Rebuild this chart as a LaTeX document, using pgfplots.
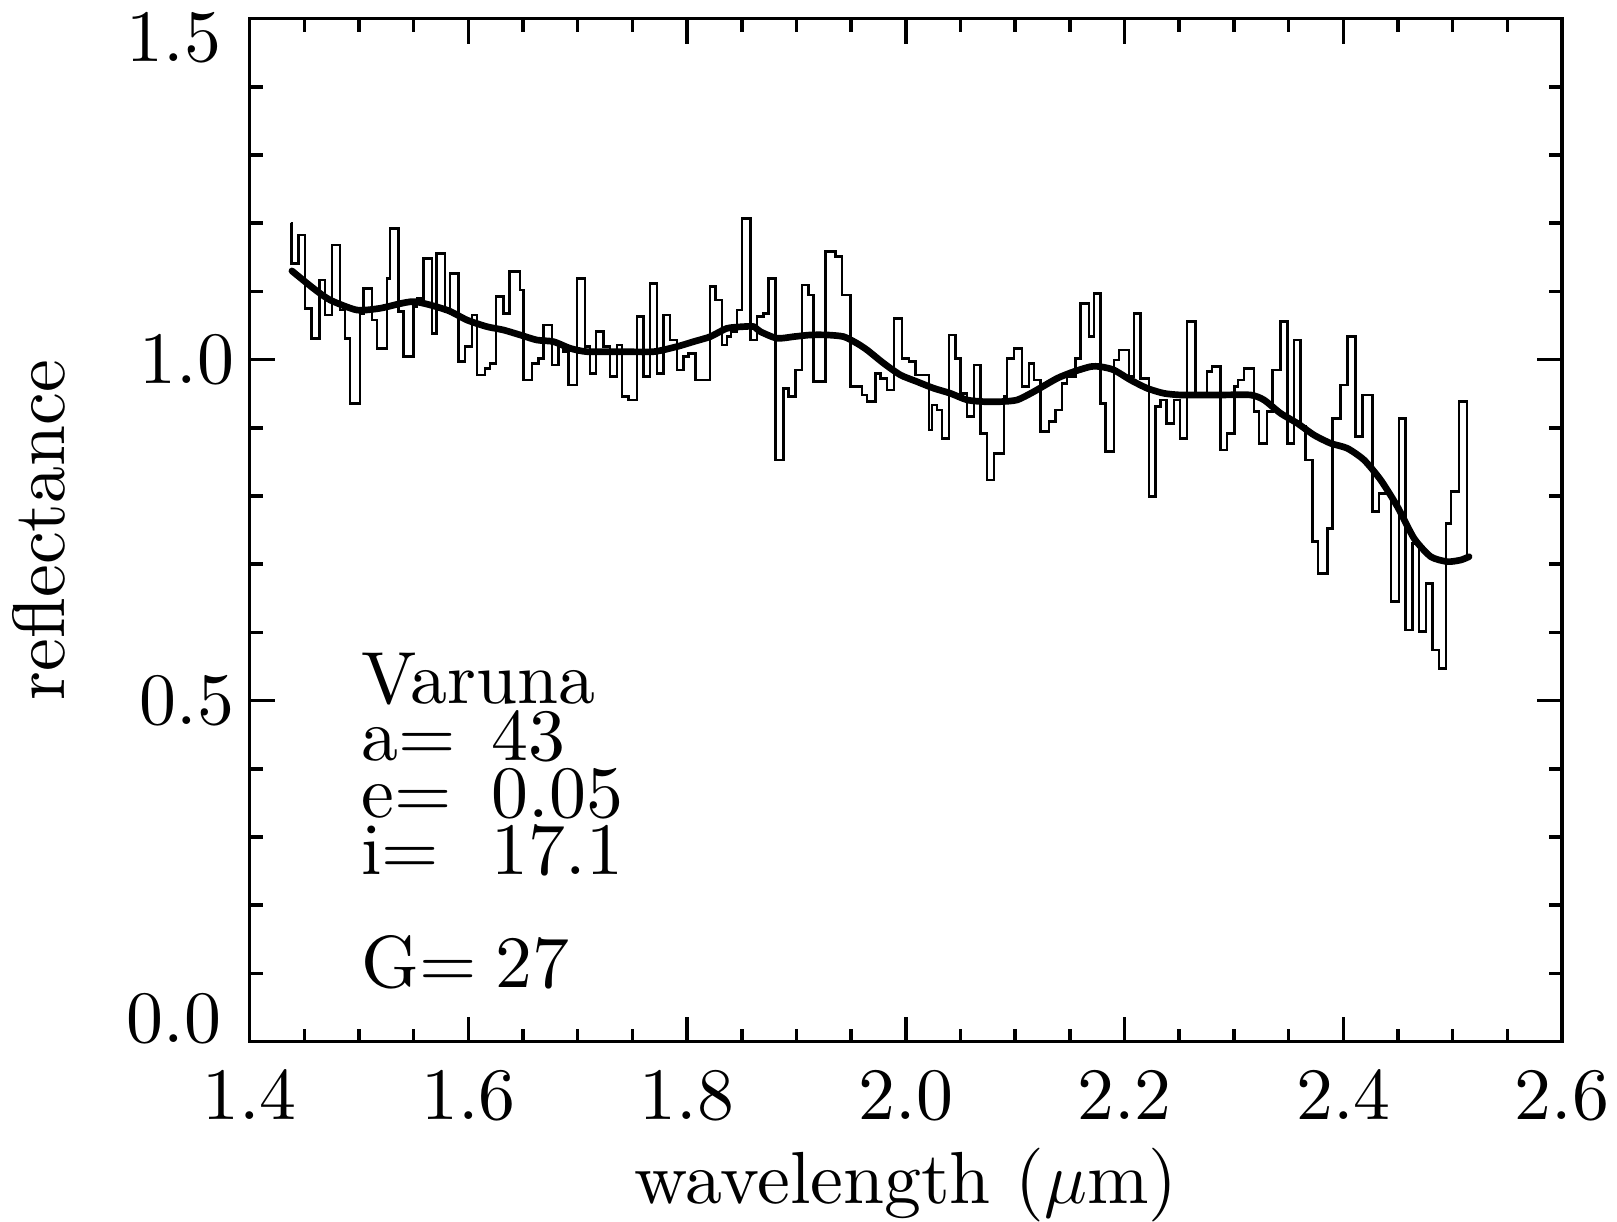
\documentclass[border=0pt]{standalone}
\usepackage{fontspec}
\setmainfont{lmroman10-regular.otf}
\usepackage{pgfplots}
\pgfplotsset{compat=1.18}
\begin{document}
\begin{tikzpicture}
\useasboundingbox (-2.496,-1.804) rectangle (13.674,10.416);
\begin{axis}[
  scale only axis, width=13.124cm, height=10.23cm,
  xmin=1.4, xmax=2.6, ymin=0, ymax=1.5,
  clip=false,
  xtick={1.4,1.6,1.8,2.0,2.2,2.4,2.6},
  ytick={0,0.5,1.0,1.5},
  yticklabels={,0.5,1.0,},
  minor x tick num=3, minor y tick num=4,
  tick align=inside, xtick pos=both, ytick pos=both,
  major tick length=0.25cm, minor tick length=0.13cm,
  axis line style={line width=1pt},
  tick style={black, line width=1pt},
  /pgf/number format/.cd, fixed, fixed zerofill, precision=1, assume math mode=true, /pgfplots/.cd,
  tick label style={font=\fontsize{21}{25}\selectfont},
  label style={font=\fontsize{21}{25}\selectfont},
  xticklabel style={yshift=-0.16cm},
  yticklabel style={xshift=-0.03cm},
  xlabel={wavelength ($\mu$m)},
  ylabel={reflectance},
  xlabel style={at={(axis description cs:0.5,-0.15875)}, anchor=base},
  ylabel style={at={(axis description cs:-0.1407,0.5)}, anchor=base},
]
\addplot[const plot mark left, black, line width=0.7pt, mark=none] coordinates {
(1.4380,1.2000) (1.4385,1.1412) (1.4446,1.1827) (1.4507,1.0752) (1.4568,1.0312)
(1.4638,1.1167) (1.4690,1.0654) (1.4751,1.1680) (1.4827,1.0727) (1.4873,1.0312)
(1.4919,0.9359) (1.5010,1.0678) (1.5041,1.1045) (1.5117,1.0581) (1.5163,1.0165)
(1.5254,1.1192) (1.5285,1.1925) (1.5361,1.0703) (1.5407,1.0043) (1.5498,1.0776)
(1.5529,1.0898) (1.5589,1.1485) (1.5666,1.0385) (1.5711,1.1558) (1.5788,1.0703)
(1.5833,1.1265) (1.5910,0.9970) (1.5971,1.0190) (1.6032,1.0654) (1.6077,0.9774)
(1.6154,0.9872) (1.6199,0.9945) (1.6254,1.0923) (1.6321,1.0678) (1.6376,1.1289)
(1.6474,1.1021) (1.6504,0.9701) (1.6581,0.9945) (1.6642,1.0019) (1.6687,1.0507)
(1.6764,0.9921) (1.6825,1.0190) (1.6870,1.0116) (1.6916,0.9628) (1.6992,1.1192)
(1.7069,1.0190) (1.7114,0.9799) (1.7169,1.0410) (1.7236,1.0190) (1.7297,0.9750)
(1.7358,1.0214) (1.7404,0.9456) (1.7465,0.9408) (1.7541,1.0630) (1.7602,0.9750)
(1.7663,1.1118) (1.7724,0.9799) (1.7785,1.0654) (1.7846,1.0287) (1.7907,0.9848)
(1.7968,1.0043) (1.8014,1.0092) (1.8075,0.9701) (1.8212,1.1069) (1.8258,1.0874)
(1.8319,1.0214) (1.8365,1.0336) (1.8401,1.0410) (1.8456,1.0727) (1.8502,1.2071)
(1.8578,1.0287) (1.8639,1.0630) (1.8700,1.0678) (1.8746,1.1192) (1.8807,0.8528)
(1.8883,0.9579) (1.8929,0.9456) (1.8990,0.9848) (1.9051,1.1094) (1.9112,1.0947)
(1.9158,0.9676) (1.9264,1.1583) (1.9356,1.1509) (1.9417,1.0947) (1.9493,0.9603)
(1.9600,0.9481) (1.9646,0.9383) (1.9722,0.9799) (1.9768,0.9725) (1.9829,0.9554)
(1.9890,1.0605) (1.9966,1.0019) (2.0027,0.9970) (2.0088,0.9774) (2.0210,0.8968)
(2.0240,0.9334) (2.0286,0.9261) (2.0332,0.8846) (2.0393,1.0361) (2.0454,1.0019)
(2.0500,0.9505) (2.0561,0.9163) (2.0622,0.9921) (2.0683,0.8919) (2.0744,0.8235)
(2.0804,0.8626) (2.0896,0.9456) (2.0927,1.0019) (2.0988,1.0165) (2.1064,0.9603)
(2.1125,0.9945) (2.1170,0.9701) (2.1231,0.8943) (2.1308,0.9090) (2.1369,0.9261)
(2.1430,0.9652) (2.1475,0.9750) (2.1552,1.0019) (2.1597,1.0825) (2.1674,1.0336)
(2.1719,1.0972) (2.1780,0.9359) (2.1826,0.8650) (2.1902,0.9994) (2.1948,1.0141)
(2.2040,0.9750) (2.2085,1.0678) (2.2146,0.9725) (2.2223,0.7990) (2.2284,0.9310)
(2.2329,0.9408) (2.2384,0.9066) (2.2451,0.9408) (2.2506,0.8846) (2.2573,1.0556)
(2.2650,0.9505) (2.2756,0.9823) (2.2802,0.9896) (2.2878,0.8675) (2.2939,0.8919)
(2.3006,0.9603) (2.3037,0.9701) (2.3092,0.9872) (2.3183,0.9237) (2.3229,0.8772)
(2.3305,0.9237) (2.3351,0.9848) (2.3427,1.0556) (2.3488,0.8772) (2.3549,1.0287)
(2.3610,0.9017) (2.3656,0.8528) (2.3717,0.7330) (2.3769,0.6866) (2.3854,0.7526)
(2.3900,0.9139) (2.3976,0.9628) (2.4037,1.0336) (2.4113,0.8870) (2.4174,0.9481)
(2.4266,0.7770) (2.4327,0.8039) (2.4434,0.6451) (2.4510,0.9139) (2.4571,0.6035)
(2.4632,0.7306) (2.4693,0.6011) (2.4754,0.6719) (2.4815,0.5742) (2.4876,0.5473)
(2.4937,0.7599) (2.4983,0.8063) (2.5059,0.9383) (2.5129,0.7100)
};
\addplot[smooth, tension=0.4, black, line width=1.9pt, line cap=round, mark=none] coordinates {
(1.4387,1.1300) (1.4583,1.1045) (1.4736,1.0874) (1.4980,1.0727) (1.5193,1.0752)
(1.5498,1.0850) (1.5803,1.0727) (1.5986,1.0581) (1.6169,1.0483) (1.6321,1.0434)
(1.6474,1.0361) (1.6626,1.0287) (1.6779,1.0263) (1.6931,1.0165) (1.7084,1.0116)
(1.7389,1.0116) (1.7694,1.0116) (1.7907,1.0190) (1.8060,1.0263) (1.8212,1.0336)
(1.8365,1.0458) (1.8517,1.0483) (1.8609,1.0483) (1.8670,1.0410) (1.8822,1.0312)
(1.8975,1.0336) (1.9127,1.0361) (1.9280,1.0361) (1.9432,1.0336) (1.9554,1.0238)
(1.9646,1.0141) (1.9798,0.9945) (1.9951,0.9774) (2.0103,0.9676) (2.0256,0.9579)
(2.0408,0.9505) (2.0561,0.9408) (2.0713,0.9383) (2.0866,0.9383) (2.1018,0.9408)
(2.1171,0.9530) (2.1384,0.9725) (2.1536,0.9823) (2.1689,0.9896) (2.1780,0.9896)
(2.1902,0.9848) (2.2055,0.9701) (2.2207,0.9579) (2.2360,0.9505) (2.2512,0.9481)
(2.2695,0.9481) (2.2878,0.9481) (2.3153,0.9481) (2.3275,0.9408) (2.3427,0.9212)
(2.3580,0.9066) (2.3732,0.8894) (2.3885,0.8772) (2.4037,0.8699) (2.4190,0.8528)
(2.4342,0.8235) (2.4495,0.7844) (2.4647,0.7379) (2.4800,0.7110) (2.4952,0.7037)
(2.5074,0.7061) (2.5150,0.7110)
};
\node[anchor=east, inner sep=0pt, xshift=-0.276cm, yshift=0.226cm, font=\fontsize{21}{25}\selectfont] at (axis cs:1.4,0) {0.0};
\node[anchor=east, inner sep=0pt, xshift=-0.276cm, yshift=-0.19cm, font=\fontsize{21}{25}\selectfont] at (axis cs:1.4,1.5) {1.5};
\node[anchor=north west, inner sep=0pt, align=left, font=\fontsize{21}{16.2}\selectfont] at (axis cs:1.5016,0.571)
  {Varuna\\
   \makebox[1.306cm][l]{a=}43\\
   \makebox[1.306cm][l]{e=}0.05\\
   \makebox[1.306cm][l]{i=}17.1\\[16.2pt]
   \makebox[1.34cm][l]{G=}27};
\end{axis}
\end{tikzpicture}
\end{document}
